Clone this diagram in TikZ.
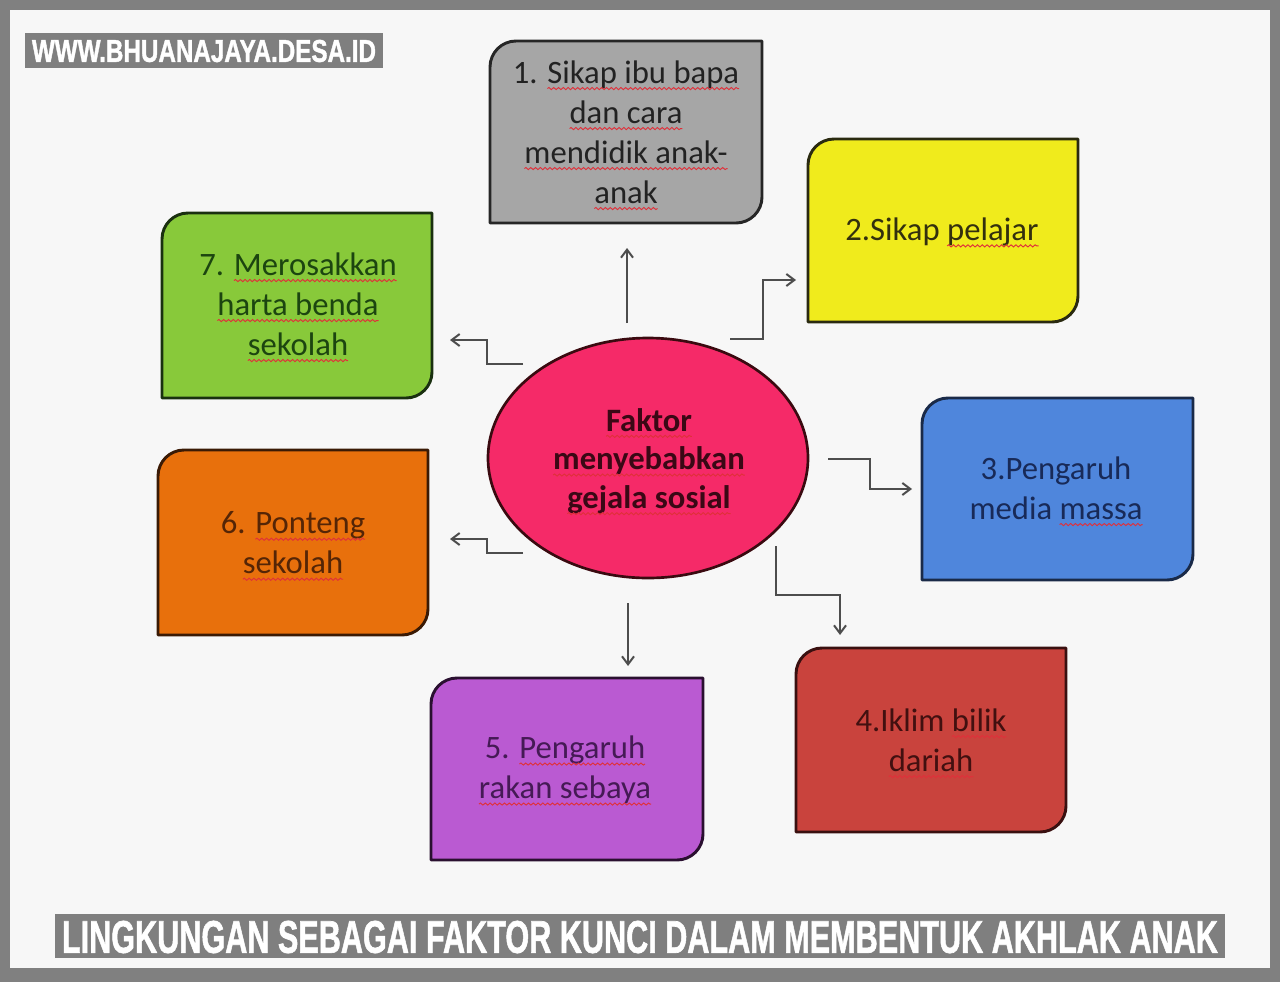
\documentclass[tikz,border=0pt]{standalone}
\usepackage{fontspec}
\setmainfont{Carlito}
\newfontfamily\headfont[BoldFeatures={FakeBold=1.5}]{Liberation Sans}
\usetikzlibrary{arrows.meta,shapes.geometric,decorations.pathmorphing}
\definecolor{framegray}{HTML}{808080}
\definecolor{bglight}{HTML}{F7F7F7}
\definecolor{bannergray}{HTML}{7F7F7F}
\definecolor{wavered}{HTML}{E0303A}
\definecolor{connc}{HTML}{4D4D4D}
\definecolor{f1}{HTML}{A6A6A6}\definecolor{d1}{HTML}{262626}\definecolor{t1}{HTML}{222222}
\definecolor{f2}{HTML}{F0EB1C}\definecolor{d2}{HTML}{2A2A10}\definecolor{t2}{HTML}{33300E}
\definecolor{f3}{HTML}{4F86DC}\definecolor{d3}{HTML}{1A2A48}\definecolor{t3}{HTML}{182A58}
\definecolor{f4}{HTML}{C9433D}\definecolor{d4}{HTML}{3A1010}\definecolor{t4}{HTML}{421010}
\definecolor{f5}{HTML}{BA5AD2}\definecolor{d5}{HTML}{2A1030}\definecolor{t5}{HTML}{451A55}
\definecolor{f6}{HTML}{E8700C}\definecolor{d6}{HTML}{3A1A05}\definecolor{t6}{HTML}{552506}
\definecolor{f7}{HTML}{88C93A}\definecolor{d7}{HTML}{1A3010}\definecolor{t7}{HTML}{1C4510}
\definecolor{fe}{HTML}{F52A68}\definecolor{de}{HTML}{3A0A10}\definecolor{te}{HTML}{3A0815}
\newdimen\sqw
\newcommand\sq[1]{\setbox0=\hbox{#1}\sqw=\wd0\leavevmode\rlap{\box0}%
  \tikz[baseline=0pt,x=1pt,y=1pt]{\useasboundingbox (0pt,0pt) rectangle (\sqw,0pt);
  \draw[wavered, line width=0.7pt, decorate, decoration={snake, amplitude=0.8pt, segment length=3.6pt}] (0pt,-4pt) -- (\sqw,-4pt);}}
\def\crad{26}
\newcommand\cornerbox[6]{%
  \path[draw=#5, fill=#6, line width=2.2pt, line join=round]
    (#1,#4) -- (#1,#2+\crad) .. controls (#1,#2+0.45*\crad) and (#1+0.45*\crad,#2) .. (#1+\crad,#2)
    -- (#3,#2) -- (#3,#4-\crad) .. controls (#3,#4-0.45*\crad) and (#3-0.45*\crad,#4) .. (#3-\crad,#4) -- cycle;}
\begin{document}
\begin{tikzpicture}[x=0.75pt,y=-0.75pt,
  boxtext/.style={align=center, inner sep=0pt, font=\fontsize{24.5}{30}\selectfont},
  conn/.style={draw=connc, line width=1.5pt, line join=miter, -{Straight Barb[length=6pt,width=9pt]}}]
\useasboundingbox (0,0) rectangle (1280,982);
\fill[framegray] (0,0) rectangle (1280,982);
\fill[bglight] (10,10) rectangle (1270,968);
% banners
\fill[bannergray] (25,33) rectangle (383,68);
\node[text=white, inner sep=0pt] (wm) at (204,51) {\resizebox{258pt}{16.5pt}{\headfont\bfseries WWW.BHUANAJAYA.DESA.ID}};
\fill[bannergray] (55,914) rectangle (1225,958);
\node[text=white, inner sep=0pt] (cap) at (640,937) {\resizebox{867pt}{24pt}{\headfont\bfseries LINGKUNGAN SEBAGAI FAKTOR KUNCI DALAM MEMBENTUK AKHLAK ANAK}};
% boxes
\cornerbox{490}{41}{762}{223}{d1}{f1}
\node[boxtext, text=t1] (b1) at (626,132) {1. \sq{Sikap ibu bapa}\\ \sq{dan cara}\\ \sq{mendidik anak-}\\ \sq{anak}};
\cornerbox{808}{139}{1078}{322}{d2}{f2}
\node[boxtext, text=t2] (b2) at (942,232) {2.Sikap \sq{pelajar}};
\cornerbox{922}{398}{1193}{580}{d3}{f3}
\node[boxtext, text=t3] (b3) at (1056,488) {3.Pengaruh\\ media \sq{massa}};
\cornerbox{796}{648}{1066}{832}{d4}{f4}
\node[boxtext, text=t4] (b4) at (931,740) {4.Iklim \sq{bilik}\\ \sq{dariah}};
\cornerbox{431}{678}{703}{860}{d5}{f5}
\node[boxtext, text=t5] (b5) at (565,770) {5. \sq{Pengaruh}\\ \sq{rakan sebaya}};
\cornerbox{158}{450}{428}{635}{d6}{f6}
\node[boxtext, text=t6] (b6) at (293,543) {6. \sq{Ponteng}\\ \sq{sekolah}};
\cornerbox{162}{213}{432}{398}{d7}{f7}
\node[boxtext, text=t7] (b7) at (298,304) {7. \sq{Merosakkan}\\ \sq{harta benda}\\ \sq{sekolah}};
% centre ellipse
\node[ellipse, draw=de, fill=fe, line width=2pt, minimum width=240pt, minimum height=180pt, inner sep=0pt] (ell) at (648,458) {};
\node[boxtext, text=te, font=\fontsize{24.5}{29}\selectfont\bfseries] (et) at (649,461) {\sq{Faktor}\\ \sq{menyebabkan}\\ \sq{gejala sosial}};
% connectors
\coordinate (a1s) at (627,323); \coordinate (a1e) at (627,248);
\draw[conn] (a1s) -- (a1e);
\coordinate (a2s) at (730,339); \coordinate (a2e) at (796,280);
\draw[conn] (a2s) -- (763,339) -- (763,280) -- (a2e);
\coordinate (a3s) at (828,459); \coordinate (a3e) at (912,489);
\draw[conn] (a3s) -- (870,459) -- (870,489) -- (a3e);
\coordinate (a4s) at (776,546); \coordinate (a4e) at (840,635);
\draw[conn] (a4s) -- (776,595) -- (840,595) -- (a4e);
\coordinate (a5s) at (628,603); \coordinate (a5e) at (628,666);
\draw[conn] (a5s) -- (a5e);
\coordinate (a6s) at (523,553); \coordinate (a6e) at (450,539);
\draw[conn] (a6s) -- (487,553) -- (487,539) -- (a6e);
\coordinate (a7s) at (523,364); \coordinate (a7e) at (450,340);
\draw[conn] (a7s) -- (487,364) -- (487,340) -- (a7e);
\end{tikzpicture}
\end{document}
